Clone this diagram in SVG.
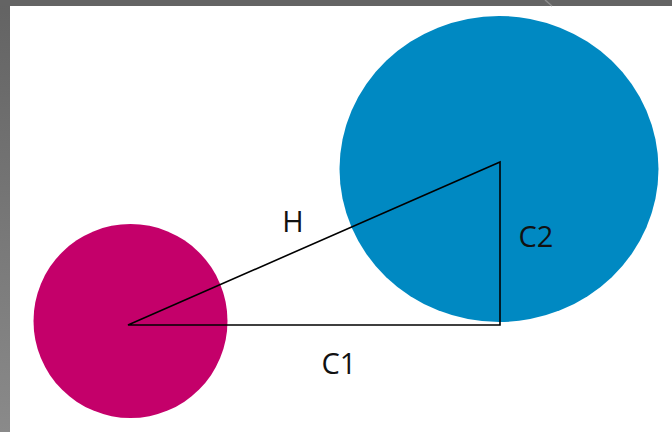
<svg xmlns="http://www.w3.org/2000/svg" width="672" height="432" viewBox="0 0 672 432">
  <defs>
    <linearGradient id="side" x1="0" y1="0" x2="0" y2="1">
      <stop offset="0" stop-color="#636363"/>
      <stop offset="1" stop-color="#8a8a8a"/>
    </linearGradient>
    <style>
      .lbl { font-family: "Open Sans", "DejaVu Sans", sans-serif; font-size: 29px; fill: #111; text-anchor: middle; }
      .edge { stroke: #000; stroke-width: 1.6; fill: none; }
    </style>
  </defs>
  <rect width="672" height="432" fill="#ffffff"/>
  <g id="frame">
    <rect x="0" y="0" width="10" height="432" fill="url(#side)"/>
    <rect x="0" y="0" width="672" height="6" fill="#646464"/>
    <line x1="545" y1="0" x2="552" y2="6" stroke="#8c8c8c" stroke-width="1.5"/>
  </g>
  <g id="circle-large">
    <ellipse cx="499" cy="169" rx="159.5" ry="153" fill="#0089C2"/>
  </g>
  <g id="circle-small">
    <circle cx="130.5" cy="321" r="97" fill="#C4006A"/>
  </g>
  <g id="connectors">
    <path class="edge" d="M128 325 L500 325 L500 162 Z"/>
  </g>
  <g id="labels">
    <text class="lbl" x="293" y="232">H</text>
    <text class="lbl" x="536" y="247">C2</text>
    <text class="lbl" x="339" y="374">C1</text>
  </g>
</svg>
